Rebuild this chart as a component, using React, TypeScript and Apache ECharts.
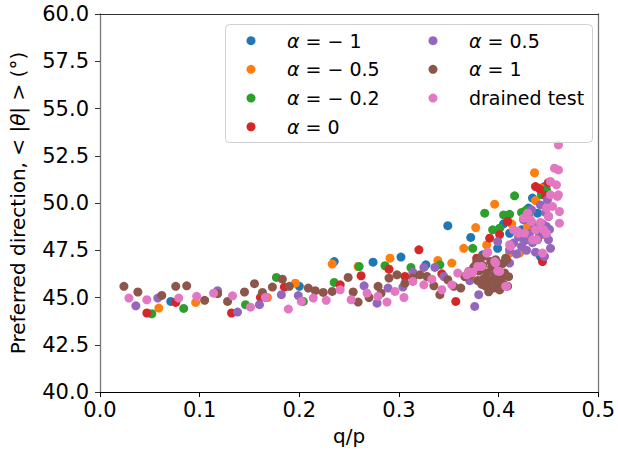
import React, { useEffect, useRef } from "react";
import * as echarts from "echarts";

const FONT = "DejaVu Sans";

const seriesNames = ["α = − 1", "α = − 0.5", "α = − 0.2", "α = 0", "α = 0.5", "α = 1", "drained test"];
const seriesColors = ["#1f77b4", "#ff7f0e", "#2ca02c", "#d62728", "#9467bd", "#8c564b", "#e377c2"];

const alphaM1: number[][] = [
  [0.071, 44.79], [0.2, 45.59], [0.235, 46.9], [0.274, 46.87], [0.302, 47.14], [0.327, 46.73],
  [0.349, 48.8], [0.372, 48.18], [0.384, 47.26], [0.399, 47.6], [0.405, 48.9], [0.411, 48.4],
  [0.423, 48.58], [0.43, 49.73], [0.434, 50.26], [0.439, 49.46], [0.442, 47.17], [0.446, 50.87],
  [0.448, 48.4],
];
const alphaM05: number[][] = [
  [0.059, 44.44], [0.096, 44.74], [0.168, 45.0], [0.196, 45.76], [0.233, 46.77], [0.259, 46.64],
  [0.291, 47.08], [0.339, 46.96], [0.353, 46.82], [0.365, 47.6], [0.377, 48.7], [0.388, 47.78],
  [0.396, 49.94], [0.411, 47.35], [0.413, 48.9], [0.421, 47.35], [0.429, 48.76], [0.436, 51.6],
  [0.437, 50.13], [0.442, 50.8], [0.444, 48.33],
];
const alphaM02: number[][] = [
  [0.052, 44.14], [0.084, 44.42], [0.146, 44.62], [0.177, 46.06], [0.204, 44.79], [0.235, 45.8],
  [0.26, 46.64], [0.286, 46.68], [0.312, 46.59], [0.341, 46.73], [0.374, 47.6], [0.386, 49.46],
  [0.394, 48.58], [0.401, 48.67], [0.405, 49.37], [0.411, 49.4], [0.416, 50.38], [0.423, 49.5],
  [0.427, 49.6], [0.43, 49.3], [0.443, 50.43], [0.448, 50.7],
];
const alpha0: number[][] = [
  [0.047, 44.18], [0.076, 44.74], [0.132, 44.18], [0.161, 45.0], [0.185, 45.55], [0.241, 45.67],
  [0.262, 46.15], [0.29, 46.5], [0.306, 46.11], [0.32, 47.52], [0.343, 46.25], [0.357, 44.79],
  [0.378, 47.08], [0.391, 48.14], [0.401, 48.33], [0.409, 49.02], [0.433, 48.05], [0.437, 50.87],
  [0.441, 50.75], [0.444, 46.9], [0.447, 50.4], [0.45, 51.08],
];
const alpha05: number[][] = [
  [0.036, 44.56], [0.058, 44.97], [0.118, 45.36], [0.138, 44.23], [0.16, 44.62], [0.182, 45.15],
  [0.199, 45.1], [0.265, 45.62], [0.278, 44.7], [0.289, 45.5], [0.304, 45.55], [0.314, 46.33],
  [0.325, 46.59], [0.336, 46.59], [0.345, 46.11], [0.371, 45.89], [0.376, 44.53], [0.38, 45.15],
  [0.399, 47.96], [0.411, 46.82], [0.411, 47.52], [0.415, 47.88], [0.418, 47.3], [0.42, 48.2],
  [0.423, 47.7], [0.425, 49.11], [0.426, 48.0], [0.428, 47.5], [0.431, 48.4], [0.433, 49.64],
  [0.434, 47.9], [0.436, 48.8], [0.437, 47.4], [0.439, 48.05], [0.441, 48.3], [0.442, 49.9],
  [0.444, 48.9], [0.446, 47.17], [0.447, 49.5], [0.448, 48.76], [0.449, 50.17], [0.45, 48.05],
  [0.45, 49.28], [0.451, 48.6], [0.452, 47.6],
];
const alpha1: number[][] = [
  [0.024, 45.59], [0.038, 45.29], [0.062, 45.11], [0.076, 45.59], [0.087, 45.62], [0.105, 44.85],
  [0.118, 45.2], [0.128, 44.79], [0.145, 45.29], [0.155, 45.73], [0.163, 45.27], [0.173, 45.55],
  [0.183, 45.97], [0.19, 45.59], [0.209, 45.5], [0.216, 45.36], [0.224, 45.27], [0.233, 45.32],
  [0.249, 46.06], [0.254, 45.29], [0.259, 44.76], [0.27, 45.0], [0.279, 45.59], [0.282, 45.23],
  [0.29, 46.03], [0.298, 46.2], [0.306, 45.76], [0.314, 46.03], [0.321, 46.2], [0.328, 46.11],
  [0.335, 45.62], [0.341, 45.15], [0.349, 45.94], [0.355, 45.59], [0.362, 45.5], [0.366, 46.11],
  [0.37, 46.38], [0.372, 46.2], [0.375, 46.6], [0.376, 46.64], [0.378, 46.9], [0.379, 45.9],
  [0.38, 46.4], [0.382, 47.1], [0.383, 45.7], [0.384, 46.7], [0.385, 46.0], [0.386, 47.2],
  [0.387, 45.6], [0.388, 46.3], [0.39, 45.3], [0.391, 45.9], [0.392, 46.9], [0.393, 46.6],
  [0.395, 45.5], [0.396, 46.2], [0.397, 47.0], [0.398, 45.8], [0.4, 46.5], [0.401, 45.4],
  [0.402, 46.0], [0.404, 46.8], [0.405, 45.7], [0.406, 46.3], [0.407, 47.08], [0.408, 47.0],
  [0.409, 45.6], [0.41, 46.1],
];
const drained: number[][] = [
  [0.029, 44.97], [0.047, 44.88], [0.079, 44.97], [0.097, 45.06], [0.114, 45.23], [0.133, 45.09],
  [0.151, 44.49], [0.166, 45.0], [0.189, 44.39], [0.202, 44.79], [0.214, 44.97], [0.227, 44.85],
  [0.241, 45.41], [0.252, 44.88], [0.268, 45.23], [0.279, 45.06], [0.288, 44.76], [0.296, 45.32],
  [0.305, 45.0], [0.314, 45.85], [0.325, 45.67], [0.333, 45.97], [0.343, 45.41], [0.353, 45.67],
  [0.359, 46.29], [0.368, 46.2], [0.37, 46.36], [0.372, 46.3], [0.374, 46.33], [0.379, 46.64],
  [0.383, 46.65], [0.388, 47.35], [0.389, 47.4], [0.396, 46.9], [0.397, 46.82], [0.399, 46.4],
  [0.401, 46.38], [0.407, 45.59], [0.408, 45.6], [0.411, 47.79], [0.412, 47.7], [0.415, 48.58],
  [0.419, 48.5], [0.42, 48.4], [0.425, 49.2], [0.426, 48.41], [0.429, 49.46], [0.432, 49.1],
  [0.433, 49.02], [0.434, 48.05], [0.437, 48.58], [0.438, 48.06], [0.442, 48.97], [0.444, 47.35],
  [0.445, 48.59], [0.448, 49.73], [0.448, 48.4], [0.45, 49.3], [0.452, 51.14], [0.452, 50.43],
  [0.454, 49.82], [0.456, 51.84], [0.458, 50.96], [0.459, 50.35], [0.46, 51.75], [0.46, 50.43],
  [0.46, 53.07], [0.461, 49.55], [0.461, 48.93],
];

const seriesData = [alphaM1, alphaM05, alphaM02, alpha0, alpha05, alpha1, drained];

const xTicks = { min: 0, max: 0.5, step: 0.1 };
const yTicks = { min: 40, max: 60, step: 2.5 };

const legendFormatter = (name: string) =>
  name.startsWith("α") ? "{i|α}" + name.slice(1) : name;

const legendText = {
  fontSize: 19,
  fontFamily: FONT,
  color: "#000",
  lineHeight: 28.7,
  padding: [0, 0, 0, 26.5],
  rich: { i: { fontStyle: "italic", fontSize: 19, fontFamily: FONT, color: "#000" } },
};

export default function App() {
  const ref = useRef<HTMLDivElement>(null);
  useEffect(() => {
    if (!ref.current) return;
    const chart = echarts.init(ref.current, null, { renderer: "svg" });
    const axisLabel = { fontSize: 21, fontFamily: FONT, color: "#000" };
    chart.setOption({
      animation: false,
      backgroundColor: "#fff",
      grid: { left: 98, right: 16, top: 14, bottom: 59, containLabel: false },
      xAxis: [
        {
          type: "value",
          position: "bottom",
          min: xTicks.min,
          max: xTicks.max,
          interval: xTicks.step,
          axisLine: { show: true, onZero: false, lineStyle: { color: "#000", width: 1 } },
          axisTick: { show: true, length: 5, lineStyle: { color: "#000" } },
          axisLabel: { ...axisLabel, margin: 7, formatter: (v: number) => v.toFixed(1) },
          splitLine: { show: false },
          name: "q/p",
          nameLocation: "middle",
          nameGap: 34,
          nameTextStyle: { fontSize: 20, fontFamily: FONT, color: "#000" },
        },
        {
          type: "value",
          position: "top",
          min: xTicks.min,
          max: xTicks.max,
          axisLine: { show: true, onZero: false, lineStyle: { color: "#333", width: 1 } },
          axisTick: { show: false },
          axisLabel: { show: false },
          splitLine: { show: false },
        },
      ],
      yAxis: [
        {
          type: "value",
          position: "left",
          min: yTicks.min,
          max: yTicks.max,
          interval: yTicks.step,
          axisLine: { show: true, onZero: false, lineStyle: { color: "#777", width: 1.3 } },
          axisTick: { show: true, length: 5, lineStyle: { color: "#333" } },
          axisLabel: { ...axisLabel, margin: 11, formatter: (v: number) => v.toFixed(1) },
          splitLine: { show: false },
          name: "Preferred direction, < |{i|θ}| > (°)",
          nameLocation: "middle",
          nameGap: 72,
          nameRotate: 90,
          nameTextStyle: {
            fontSize: 20,
            fontFamily: FONT,
            color: "#000",
            rich: { i: { fontStyle: "italic", fontSize: 20, fontFamily: FONT, color: "#000" } },
          },
        },
        {
          type: "value",
          position: "right",
          min: yTicks.min,
          max: yTicks.max,
          axisLine: { show: true, onZero: false, lineStyle: { color: "#777", width: 1.3 } },
          axisTick: { show: false },
          axisLabel: { show: false },
          splitLine: { show: false },
        },
      ],
      legend: [
        {
          data: seriesNames.slice(0, 4),
          orient: "vertical",
          left: 246.5,
          top: 26.3,
          padding: 0,
          itemGap: 0,
          itemWidth: 9,
          itemHeight: 9,
          icon: "circle",
          formatter: legendFormatter,
          textStyle: legendText,
          selectedMode: false,
        },
        {
          data: seriesNames.slice(4),
          orient: "vertical",
          left: 428.5,
          top: 26.3,
          padding: 0,
          itemGap: 0,
          itemWidth: 9,
          itemHeight: 9,
          icon: "circle",
          formatter: legendFormatter,
          textStyle: legendText,
          selectedMode: false,
        },
      ],
      graphic: [
        {
          type: "rect",
          left: 225,
          top: 24,
          z: 3,
          shape: { width: 367, height: 118, r: 4 },
          style: { fill: "rgba(255,255,255,0.8)", stroke: "#d0d0d0", lineWidth: 1 },
        },
      ],
      series: seriesNames.map((name, i) => ({
        name,
        type: "scatter",
        xAxisIndex: 0,
        yAxisIndex: 0,
        data: seriesData[i],
        symbol: "circle",
        symbolSize: 9,
        itemStyle: { color: seriesColors[i], opacity: 1 },
        emphasis: { disabled: true },
      })),
    });
    return () => chart.dispose();
  }, []);
  return (
    <div
      ref={ref}
      style={{ position: "fixed", left: 0, top: 0, width: 618, height: 451 }}
    />
  );
}
